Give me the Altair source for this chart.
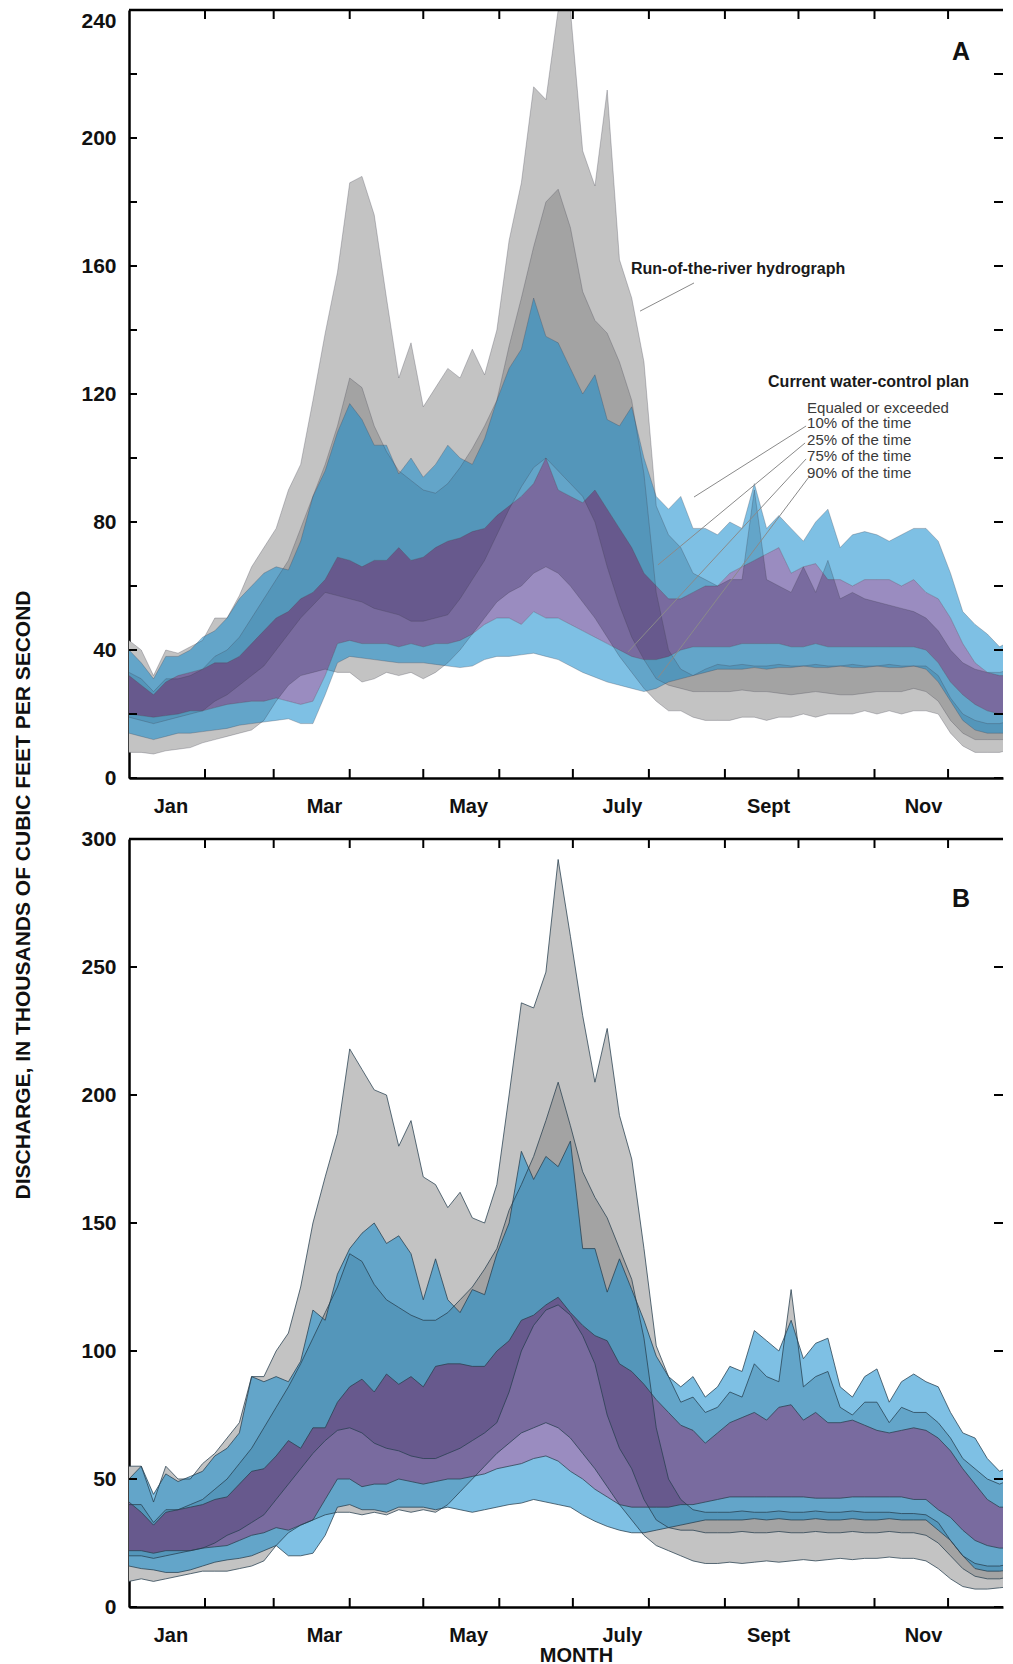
import altair as alt
import pandas as pd

# ---------------- data (thousands of ft3/s), every 5 days from Jan 1 ----------------
DAYS = list(range(0, 361, 5))

# Panel A
A_ROR10 = [43, 40, 32, 40, 39, 41, 43, 50, 50, 57,
           66, 72, 78, 90, 98, 118, 139, 158, 186, 188,
           176, 150, 125, 136, 116, 122, 128, 125, 134, 126,
           140, 168, 186, 216, 212, 242, 246, 196, 185, 215,
           162, 150, 130, 85, 76, 72, 64, 62, 60, 62,
           62, 90, 62, 60, 58, 66, 58, 68, 56, 58,
           56, 55, 54, 53, 52, 50, 46, 40, 36, 34,
           33, 33, 34]
A_ROR25 = [33, 31, 27, 31, 31, 32, 34, 38, 40, 44,
           50, 56, 62, 68, 78, 88, 98, 110, 125, 122,
           110, 102, 96, 93, 90, 89, 92, 97, 103, 110,
           118, 135, 150, 166, 180, 184, 172, 152, 143, 139,
           130, 118, 95, 58, 40, 34, 32, 34, 35.5, 35,
           35.5, 35, 35, 35.5, 35, 35, 35.5, 35, 35, 35.5,
           35, 35, 35.5, 35, 35, 35, 32, 25, 20, 18,
           17, 17, 18]
A_ROR75 = [19, 18, 17, 18, 19, 20, 21, 24, 26, 29,
           32, 35, 40, 45, 50, 54, 58, 57, 56, 55,
           53, 52, 51, 49, 49, 50, 51, 56, 62, 68,
           76, 84, 91, 97, 100, 96, 92, 88, 80, 66,
           54, 44, 37, 31, 29, 28, 27, 27, 27, 27,
           27.5, 27, 27, 26.5, 26, 26.5, 27, 26.5, 26, 26,
           26.5, 27, 27, 27, 28, 27, 24, 18, 14, 12,
           12, 12, 12]
A_ROR90 = [8, 8, 7.5, 8.5, 9, 9.5, 11, 12, 13, 14,
           15, 18, 24, 29, 32, 33, 34, 33, 33, 30,
           31, 33, 32, 33, 31, 33, 36, 40, 45, 50,
           55, 58, 60, 64, 66, 64, 60, 55, 50, 44,
           38, 33, 28, 24, 21, 21, 19, 18, 18, 18,
           19, 19, 18, 19, 19, 20, 19, 20, 20, 20,
           21, 20, 21, 20, 21, 21, 20, 14, 10, 8,
           8, 8, 9]
A_CWCP10 = [40, 36, 31, 38, 38, 40, 44, 46, 50, 56,
            60, 64, 66, 65, 74, 88, 96, 108, 117, 112,
            104, 104, 95, 100, 94, 98, 104, 100, 98, 106,
            118, 128, 134, 150, 138, 136, 128, 120, 126, 112,
            110, 116, 100, 88, 84, 88, 78, 78, 76, 80,
            78, 92, 78, 82, 78, 74, 80, 84, 72, 76,
            77, 76, 74, 76, 78, 78, 74, 64, 52, 48,
            45, 41, 43]
A_CWCP25 = [32, 29, 26, 30, 32, 33, 34, 36, 36, 38,
            42, 46, 50, 52, 56, 58, 62, 69, 68, 66,
            68, 68, 72, 68, 69, 72, 74, 75, 77, 78,
            82, 85, 88, 92, 100, 90, 88, 86, 90, 84,
            78, 72, 64, 60, 56, 56, 58, 60, 60, 64,
            66, 68, 70, 72, 64, 66, 67, 62, 62, 60,
            62, 62, 62, 60, 62, 58, 56, 50, 42, 36,
            33, 32, 32]
A_CWCP75 = [20, 19.5, 19, 19.5, 20, 21, 21, 22, 23, 23.5,
            24, 24, 25, 24, 23, 24, 32, 42, 43, 42,
            42, 42, 41, 42, 41, 42, 42, 43, 45, 48,
            50, 50, 48, 52, 50, 50, 48, 46, 44, 42,
            40, 38, 37, 37, 38, 40, 41, 41, 41, 41,
            42, 42, 42, 42, 41, 41, 42, 41, 41, 41,
            41, 41, 41, 41, 41, 40, 36, 30, 26, 23,
            21, 20, 20]
A_CWCP90 = [14, 13, 12, 13, 14, 14, 14.5, 15, 15.5, 16.5,
            17, 17.5, 18, 18.5, 17, 17, 26, 36, 38, 37.5,
            37, 36.5, 36, 36, 36, 35.5, 35, 34.5, 35, 37,
            38, 38, 38.5, 39, 38, 37, 35, 33, 31.5, 30,
            29, 28, 27, 28, 30, 31, 32, 33, 34, 34,
            34, 34.5, 34, 34.5, 34.5, 35, 34.5, 34.5, 35, 34.5,
            34.5, 35, 34.5, 34.5, 35, 34, 30, 24, 18, 15,
            14, 14, 14]

# Panel B
B_ROR10 = [55, 55, 41, 55, 50, 50, 56, 60, 66, 72,
           90, 90, 100, 107, 125, 150, 168, 185, 218, 210,
           202, 200, 180, 190, 168, 165, 156, 162, 152, 150,
           165, 200, 236, 234, 248, 292, 262, 231, 205, 226,
           192, 175, 140, 102, 90, 80, 82, 76, 78, 84,
           82, 95, 90, 88, 124, 86, 90, 92, 78, 75,
           80, 80, 72, 78, 76, 76, 72, 66, 58, 54,
           50, 48, 50]
B_ROR25 = [40, 40, 33, 38, 38, 40, 42, 46, 50, 56,
           62, 70, 78, 86, 95, 105, 115, 125, 138, 135,
           126, 120, 117, 114, 112, 112, 115, 120, 125, 132,
           140, 155, 165, 176, 190, 205, 188, 170, 160, 152,
           140, 128, 105, 70, 50, 42, 38, 37, 37, 37,
           37.5, 37, 37, 37.5, 37, 37, 37.5, 37, 37, 37.5,
           37, 37, 37, 36.5, 36.5, 36, 33, 26, 20, 17,
           16, 16, 17]
B_ROR75 = [20, 20, 19, 20, 21, 22, 23, 25, 28, 30,
           33, 36, 42, 48, 54, 60, 65, 69, 70, 68,
           64, 62, 61, 59, 58, 58, 60, 62, 65, 68,
           72, 84, 100, 110, 116, 118, 114, 106, 95, 75,
           62, 54, 42, 34, 31, 30, 30, 29, 29, 29,
           29.5, 29, 29, 29.5, 29, 29, 29.5, 29, 29, 29.5,
           29, 29, 29.5, 29, 29, 28, 25, 20, 15, 12,
           11, 11, 12]
B_ROR90 = [10, 11, 10, 11, 12, 13, 14, 14, 14, 15,
           16, 18, 24, 29, 32, 34, 36, 37, 37, 36,
           37, 36, 38, 37, 38, 37, 40, 45, 50, 55,
           60, 64, 68, 70, 72, 70, 66, 60, 54, 47,
           40, 34, 28, 24, 22, 20, 18, 17, 17, 17.5,
           17, 17.5, 18, 17.5, 18, 18.5, 18, 18.5, 19, 18.5,
           19, 19, 19.5, 19, 19, 18, 15, 11, 8, 7,
           7, 7.5, 8]
B_CWCP10 = [50, 55, 44, 52, 49, 51, 53, 59, 62, 68,
            90, 88, 90, 88, 96, 116, 112, 130, 140, 146,
            150, 142, 145, 138, 120, 136, 120, 115, 124, 122,
            138, 150, 178, 167, 176, 172, 182, 140, 140, 123,
            136, 124, 112, 98, 90, 86, 90, 82, 86, 94,
            92, 108, 104, 100, 112, 97, 103, 105, 86, 82,
            90, 93, 80, 88, 91, 88, 86, 76, 68, 66,
            58, 53, 55]
B_CWCP25 = [41, 37, 32, 37, 38, 39, 40, 42, 43, 48,
            53, 54, 59, 65, 62, 70, 70, 80, 86, 89,
            84, 91, 87, 90, 86, 94, 95, 95, 94, 94,
            100, 104, 112, 114, 118, 121, 115, 110, 106, 104,
            95, 92, 87, 81, 76, 71, 69, 64, 68, 72,
            74, 76, 73, 78, 79, 73, 76, 72, 72, 73,
            71, 69, 68, 69, 70, 69, 66, 61, 54, 48,
            42, 39, 39]
B_CWCP75 = [22, 22, 21, 22, 22, 22, 23, 23.5, 24, 26,
            28, 29, 31, 30, 32, 34, 42, 50, 50, 47,
            48, 48, 50, 49, 48, 49, 50, 50, 51, 52,
            54, 55, 56, 58, 59, 57, 53, 50, 46, 43,
            40, 39, 39, 39, 39, 40, 40, 41, 42, 43,
            43, 43, 43, 43, 43, 43, 42.5, 42.5, 42.5, 43,
            43, 43, 43, 43, 42, 42, 38, 35, 30, 26,
            24, 23, 23]
B_CWCP90 = [16, 15, 14.5, 13.5, 13.5, 14.5, 16, 17.5, 18.4, 19,
            20, 22, 24, 20, 20, 21, 28, 39, 40, 38,
            38, 37, 39, 39, 39, 38, 39, 38, 37, 38,
            39, 40, 40.6, 42, 41, 40, 39, 36, 33.5, 31.5,
            30, 29, 29, 30, 31, 32, 33, 34, 34, 34,
            34, 34.5, 34, 34.5, 34, 34, 34.5, 34, 34, 34.5,
            34, 34, 34.5, 34, 34, 34, 30, 26, 20, 15,
            14, 14, 14.5]

MONTH_TICK_DAYS = [31, 59, 90, 120, 151, 181, 212, 243, 273, 304, 334]
MONTH_LABEL_DAYS = [16.9, 79.5, 138.3, 201.0, 260.6, 323.8]
MONTH_LABELS = ["Jan", "Mar", "May", "July", "Sept", "Nov"]

A_YTICKS = list(range(0, 241, 20))
A_YLABELS = list(range(0, 241, 40))
B_YTICKS = list(range(0, 301, 50))
B_YLABELS = list(range(0, 301, 50))

Y_TITLE = "DISCHARGE, IN THOUSANDS OF CUBIC FEET PER SECOND"

# annotations for panel A (day, discharge)
A_BOLD_TEXT = ["Run-of-the-river hydrograph", "Current water-control plan"]
A_BOLD_X = [204.7, 260.6]
A_BOLD_Y = [159.0, 123.8]
A_NOTE_TEXT = ["Equaled or exceeded", "10% of the time", "25% of the time",
               "75% of the time", "90% of the time"]
A_NOTE_X = [276.5] * 5
A_NOTE_Y = [115.6, 110.9, 105.6, 100.6, 95.3]
LEADER_X = [230.4, 276.1, 275.7, 276.1, 277.3]
LEADER_Y = [154.7, 110.0, 104.7, 99.7, 94.1]
LEADER_X2 = [208.4, 230.4, 215.7, 203.5, 215.7]
LEADER_Y2 = [145.9, 87.8, 66.6, 39.4, 31.3]

# ---------------- styling ----------------
W, H = 874, 768
XMAX = 356.4
FONT = "Liberation Sans"
LG, DG = "#c3c3c3", "#a3a3a3"
BLUE, BLUE_OP = "#148ccd", 0.55
PURPLE, PURPLE_OP = "#1f0073", 0.45

MONTH_EXPR = ("datum.value < 50 ? 'Jan' : datum.value < 110 ? 'Mar' : "
              "datum.value < 170 ? 'May' : datum.value < 230 ? 'July' : "
              "datum.value < 290 ? 'Sept' : 'Nov'")


def make_df(r10, r25, r75, r90, c10, c25, c75, c90):
    return pd.DataFrame({"day": DAYS, "ror10": r10, "ror25": r25, "ror75": r75,
                         "ror90": r90, "c10": c10, "c25": c25, "c75": c75, "c90": c90})


def panel(df, ymax, yticks, ylabels, letter, letter_y, month_title, flush_top,
          line_color, line_opacity, line_width, label_pad, extra_layers):
    xaxis_kw = dict(values=MONTH_LABEL_DAYS, labelExpr=MONTH_EXPR, ticks=False, grid=False,
                    domainColor="black", domainWidth=2.5, labelFont=FONT, labelFontSize=20,
                    labelFontWeight="bold", labelColor="#111", labelPadding=label_pad,
                    labelAngle=0)
    if month_title:
        xaxis = alt.Axis(title="MONTH", titleFont=FONT, titleFontSize=20,
                         titleFontWeight="bold", titleColor="#111", titlePadding=0,
                         titleX=447, titleAlign="center", **xaxis_kw)
    else:
        xaxis = alt.Axis(title="", **xaxis_kw)
    yaxis_kw = dict(values=ylabels, title="", ticks=False, grid=False, domainColor="black",
                    domainWidth=2.5, labelFont=FONT, labelFontSize=21, labelFontWeight="bold",
                    labelColor="#111", labelPadding=13)
    if flush_top:
        yaxis_kw["labelBaseline"] = {"condition": {"test": f"datum.value == {ymax}",
                                                   "value": "top"}, "value": "middle"}
    yaxis = alt.Axis(**yaxis_kw)
    xs = alt.Scale(domain=[0, XMAX], nice=False, zero=False)
    ys = alt.Scale(domain=[0, ymax], nice=False, clamp=True)

    def X(f="day"):
        return alt.X(f"{f}:Q", scale=xs, axis=xaxis)

    def Y(f):
        return alt.Y(f"{f}:Q", scale=ys, axis=yaxis)

    base = alt.Chart(df)
    layers = [
        base.mark_area(color=LG, clip=True).encode(x=X(), y=Y("ror90"), y2="ror10:Q"),
        base.mark_area(color=DG, clip=True).encode(x=X(), y=Y("ror75"), y2="ror25:Q"),
        base.mark_area(color=BLUE, opacity=BLUE_OP, clip=True)
            .encode(x=X(), y=Y("c90"), y2="c75:Q"),
        base.mark_area(color=BLUE, opacity=BLUE_OP, clip=True)
            .encode(x=X(), y=Y("c25"), y2="c10:Q"),
        base.mark_area(color=PURPLE, opacity=PURPLE_OP, clip=True)
            .encode(x=X(), y=Y("c75"), y2="c25:Q"),
        base.transform_fold(["ror10", "ror25", "ror75", "ror90", "c10", "c25", "c75", "c90"],
                            as_=["series", "value"])
            .mark_line(color=line_color, strokeWidth=line_width, opacity=line_opacity, clip=True)
            .encode(x=X(), y=Y("value"), detail="series:N"),
    ]
    ytick_df = pd.DataFrame({"v": yticks})
    mtick_df = pd.DataFrame({"day": MONTH_TICK_DAYS})
    layers += [
        alt.Chart(ytick_df).mark_rule(color="black", strokeWidth=2)
            .encode(y=Y("v"), x=alt.value(0), x2=alt.value(8)),
        alt.Chart(ytick_df).mark_rule(color="black", strokeWidth=2)
            .encode(y=Y("v"), x=alt.value(W - 9), x2=alt.value(W)),
        alt.Chart(mtick_df).mark_rule(color="black", strokeWidth=2)
            .encode(x=X(), y=alt.value(H), y2=alt.value(H - 9)),
        alt.Chart(mtick_df).mark_rule(color="black", strokeWidth=2)
            .encode(x=X(), y=alt.value(0), y2=alt.value(9)),
        alt.Chart(pd.DataFrame({"k": [0]})).mark_rule(color="black", strokeWidth=2.5)
            .encode(x=alt.value(0), x2=alt.value(W), y=alt.value(0)),
        alt.Chart(pd.DataFrame({"day": [339.3], "v": [letter_y], "t": [letter]}))
            .mark_text(font=FONT, fontSize=25, fontWeight="bold", color="#111",
                       align="center", baseline="middle")
            .encode(x=X(), y=Y("v"), text="t:N"),
    ]
    for lay in extra_layers(X, Y):
        layers.append(lay)
    return alt.layer(*layers).properties(width=W, height=H)


def a_extras(X, Y):
    lead = pd.DataFrame({"x": LEADER_X, "y": LEADER_Y, "x2": LEADER_X2, "y2": LEADER_Y2})
    bold = pd.DataFrame({"day": A_BOLD_X, "v": A_BOLD_Y, "t": A_BOLD_TEXT})
    note = pd.DataFrame({"day": A_NOTE_X, "v": A_NOTE_Y, "t": A_NOTE_TEXT})
    return [
        alt.Chart(lead).mark_rule(color="#8a8a8a", strokeWidth=1)
            .encode(x=X("x"), y=Y("y"), x2="x2:Q", y2="y2:Q"),
        alt.Chart(bold).mark_text(font=FONT, fontSize=16, fontWeight="bold", color="#1a1a1a",
                                  align="left", baseline="middle")
            .encode(x=X(), y=Y("v"), text="t:N"),
        alt.Chart(note).mark_text(font=FONT, fontSize=15, color="#3a3a3a",
                                  align="left", baseline="middle")
            .encode(x=X(), y=Y("v"), text="t:N"),
    ]


def b_extras(X, Y):
    return [
        alt.Chart(pd.DataFrame({"t": [Y_TITLE]}))
            .mark_text(font=FONT, fontSize=21, fontWeight="bold", color="#111",
                       angle=270, align="center", baseline="middle")
            .encode(text="t:N", x=alt.value(-105), y=alt.value(56)),
    ]


dfA = make_df(A_ROR10, A_ROR25, A_ROR75, A_ROR90, A_CWCP10, A_CWCP25, A_CWCP75, A_CWCP90)
dfB = make_df(B_ROR10, B_ROR25, B_ROR75, B_ROR90, B_CWCP10, B_CWCP25, B_CWCP75, B_CWCP90)

pA = panel(dfA, 240, A_YTICKS, A_YLABELS, "A", 226.9, False, True,
           "#3a3a4a", 0.35, 0.8, 18, a_extras)
pB = panel(dfB, 300, B_YTICKS, B_YLABELS, "B", 276.5, True, False,
           "#263d4d", 0.75, 1.0, 18, b_extras)

chart = (alt.vconcat(pA, pB, spacing=61, bounds="flush")
         .properties(padding={"left": 4, "top": 0, "right": 0, "bottom": 0})
         .configure_view(stroke="transparent"))

chart.save("out.html", embed_options={"renderer": "svg", "actions": False})
